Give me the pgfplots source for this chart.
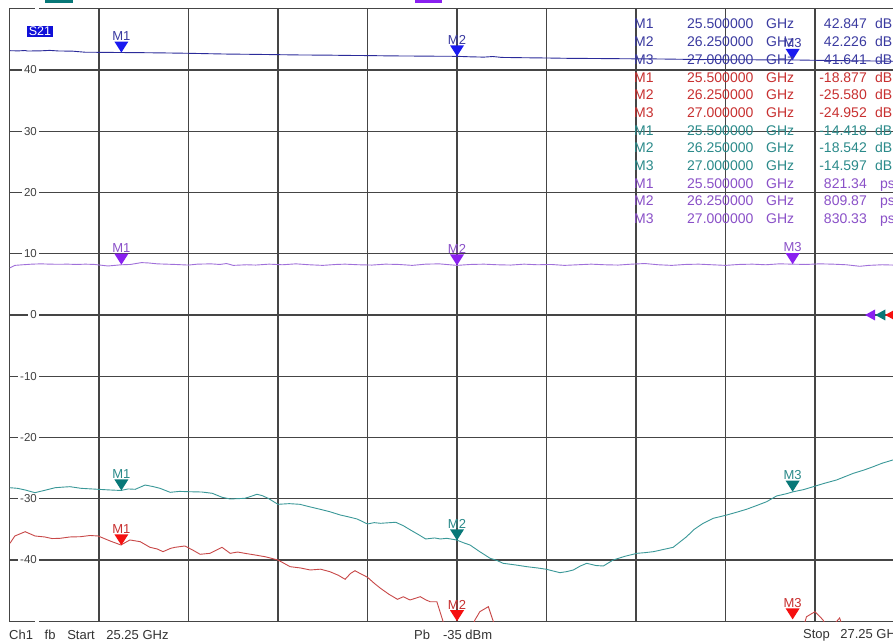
\documentclass[border=0pt]{standalone}
\usepackage{fontspec}
\setmainfont{Liberation Sans}
\usepackage{pgfplots}
\pgfplotsset{compat=1.18}
\definecolor{gridc}{HTML}{454545}
\definecolor{bline}{HTML}{2B2B9A}
\definecolor{bmark}{HTML}{1A1AF0}
\definecolor{btext}{HTML}{3A3AA0}
\definecolor{pline}{HTML}{A070DA}
\definecolor{pmark}{HTML}{8A20F0}
\definecolor{ptext}{HTML}{8A50C8}
\definecolor{tline}{HTML}{3A9898}
\definecolor{tmark}{HTML}{087878}
\definecolor{ttext}{HTML}{2A8A8A}
\definecolor{rline}{HTML}{C84848}
\definecolor{rmark}{HTML}{F51010}
\definecolor{rtext}{HTML}{C83030}
\definecolor{labc}{HTML}{404040}
\definecolor{s21blue}{HTML}{1010D8}

\pgfdeclareplotmark{vtri}{%
 \pgfpathmoveto{\pgfpoint{-7pt}{11pt}}%
 \pgfpathlineto{\pgfpoint{7pt}{11pt}}%
 \pgfpathlineto{\pgfpoint{0pt}{0pt}}%
 \pgfpathclose\pgfusepathqfill}
\pgfdeclareplotmark{ltri}{%
 \pgfpathmoveto{\pgfpoint{-5pt}{0pt}}%
 \pgfpathlineto{\pgfpoint{5pt}{5.5pt}}%
 \pgfpathlineto{\pgfpoint{5pt}{-5.5pt}}%
 \pgfpathclose\pgfusepathqfill}

\newcommand{\tfont}{\fontsize{14}{14}\selectfont}
\newcommand{\mfont}{\fontsize{13}{13}\selectfont}
\newcommand{\mrow}[7]{%
 \begin{scope}[yshift=-5pt]
 \node[anchor=base west, text=#2, font=\tfont, inner sep=0pt] at (634pt,#1pt) {#3};
 \node[anchor=base west, text=#2, font=\tfont, inner sep=0pt] at (687pt,#1pt) {#4};
 \node[anchor=base west, text=#2, font=\tfont, inner sep=0pt] at (766pt,#1pt) {GHz};
 \node[anchor=base east, text=#2, font=\tfont, inner sep=0pt] at (867pt,#1pt) {#5};
 \node[anchor=base west, text=#2, font=\tfont, inner sep=0pt] at (#7pt,#1pt) {#6};
 \end{scope}
}

\begin{document}
\begin{tikzpicture}
\useasboundingbox (0,0) rectangle (893pt,644pt);
\clip (0,0) rectangle (893pt,644pt);
\fill[white] (0,0) rectangle (893pt,644pt);
\begin{axis}[
  at={(9.5pt,22.75pt)}, anchor=south west,
  scale only axis, width=895pt, height=612.5pt,
  xmin=25.25, xmax=27.25, ymin=-50, ymax=50,
  xtick={25.25,25.45,25.65,25.85,26.05,26.25,26.45,26.65,26.85,27.05,27.25},
  xticklabels={},
  ytick={-50,-40,-30,-20,-10,0,10,20,30,40,50},
  yticklabels={{},{-40},{-30},{-20},{-10},{0},{10},{20},{30},{40},{}},
  yticklabel style={anchor=east, xshift=29.5pt, fill=white, inner xsep=2pt, inner ysep=0.5pt, text=labc, font=\fontsize{11.5}{12}\selectfont},
  grid=major,
  major grid style={gridc, line width=1.2pt},
  axis line style={gridc, line width=1.2pt},
  major tick length=0pt,
  tick style={draw=none},
]
% blue trace
\addplot[bline, line width=0.9pt] table[row sep=\\]{
x y\\
25.251 43.15\\ 25.27 43.12\\ 25.285 43.18\\ 25.29 43.1\\ 25.318 43.12\\ 25.34 43.2\\ 25.36 43.1\\
25.39 43.08\\ 25.419 42.9\\ 25.46 42.88\\ 25.50 42.85\\ 25.542 42.83\\ 25.60 42.78\\ 25.647 42.73\\
25.70 42.65\\ 25.736 42.6\\ 25.80 42.55\\ 25.85 42.5\\ 25.90 42.45\\ 25.966 42.42\\ 26.0 42.38\\
26.055 42.35\\ 26.10 42.3\\ 26.145 42.28\\ 26.20 42.25\\ 26.25 42.23\\ 26.28 42.15\\ 26.31 42.1\\
26.33 42.2\\ 26.35 42.05\\ 26.40 42.0\\ 26.458 41.95\\ 26.502 41.9\\ 26.55 41.88\\ 26.60 41.85\\
26.65 41.82\\ 26.70 41.8\\ 26.75 41.75\\ 26.793 41.7\\ 26.84 41.72\\ 26.85 41.66\\ 26.90 41.67\\
26.95 41.65\\ 27.00 41.64\\ 27.054 41.58\\ 27.10 41.53\\ 27.151 41.5\\ 27.224 41.42\\
};
% purple trace
\addplot[pline, line width=0.9pt] table[row sep=\\]{
x y\\
25.251 7.7\\ 25.262 8.1\\ 25.28 8.2\\ 25.30 8.3\\ 25.32 8.35\\ 25.34 8.3\\ 25.36 8.28\\ 25.38 8.3\\
25.40 8.25\\ 25.42 8.3\\ 25.44 8.25\\ 25.47 8.0\\ 25.50 8.2\\ 25.52 8.25\\ 25.545 8.55\\ 25.56 8.5\\
25.58 8.35\\ 25.60 8.3\\ 25.62 8.25\\ 25.65 8.15\\ 25.67 8.3\\ 25.70 8.35\\ 25.72 8.25\\ 25.735 8.4\\
25.75 8.1\\ 25.78 8.2\\ 25.80 8.15\\ 25.83 8.3\\ 25.86 8.2\\ 25.89 8.35\\ 25.92 8.2\\ 25.95 8.1\\
25.98 8.25\\ 26.00 8.3\\ 26.03 8.2\\ 26.06 8.15\\ 26.09 8.3\\ 26.12 8.25\\ 26.15 8.1\\ 26.18 8.3\\
26.21 8.35\\ 26.25 8.1\\ 26.28 8.25\\ 26.31 8.3\\ 26.34 8.2\\ 26.37 8.15\\ 26.40 8.3\\ 26.43 8.2\\
26.46 8.25\\ 26.49 8.1\\ 26.52 8.2\\ 26.55 8.3\\ 26.58 8.2\\ 26.61 8.15\\ 26.64 8.3\\ 26.67 8.4\\
26.70 8.2\\ 26.73 8.1\\ 26.76 8.25\\ 26.79 8.3\\ 26.82 8.2\\ 26.85 8.1\\ 26.88 8.25\\ 26.91 8.3\\
26.94 8.2\\ 26.97 8.35\\ 27.00 8.3\\ 27.03 8.25\\ 27.06 8.35\\ 27.09 8.3\\ 27.12 8.2\\ 27.15 7.95\\
27.17 8.1\\ 27.20 8.2\\ 27.225 8.15\\
};
% teal trace
\addplot[tline, line width=0.9pt] table[row sep=\\]{
x y\\
25.251 -28.20\\ 25.268 -28.3\\ 25.285 -28.57\\ 25.307 -29.01\\ 25.33 -28.6\\ 25.352 -28.20\\
25.37 -28.1\\ 25.385 -28.03\\ 25.41 -28.3\\ 25.448 -28.46\\ 25.475 -28.57\\ 25.499 -28.65\\
25.515 -28.4\\ 25.531 -28.46\\ 25.553 -27.76\\ 25.57 -28.0\\ 25.586 -28.29\\ 25.609 -28.95\\
25.63 -28.8\\ 25.649 -28.85\\ 25.68 -28.9\\ 25.703 -29.11\\ 25.725 -29.76\\ 25.743 -30.04\\
25.776 -29.93\\ 25.79 -29.6\\ 25.803 -29.27\\ 25.815 -29.5\\ 25.828 -29.93\\ 25.850 -30.91\\
25.875 -30.8\\ 25.899 -30.91\\ 25.92 -31.3\\ 25.944 -31.72\\ 25.965 -32.1\\ 25.989 -32.65\\
26.01 -33.0\\ 26.027 -33.31\\ 26.050 -34.12\\ 26.065 -33.9\\ 26.079 -34.01\\ 26.113 -33.84\\
26.13 -34.4\\ 26.146 -35.10\\ 26.165 -35.9\\ 26.180 -36.57\\ 26.20 -36.4\\ 26.213 -36.57\\
26.227 -36.46\\ 26.249 -36.73\\ 26.265 -37.2\\ 26.279 -37.55\\ 26.30 -38.6\\ 26.324 -39.72\\
26.34 -40.1\\ 26.353 -40.54\\ 26.38 -40.8\\ 26.406 -41.09\\ 26.43 -41.3\\ 26.450 -41.52\\
26.465 -41.8\\ 26.480 -42.07\\ 26.495 -41.9\\ 26.510 -41.63\\ 26.525 -41.0\\ 26.540 -40.54\\
26.56 -40.9\\ 26.577 -40.98\\ 26.599 -40.00\\ 26.625 -39.4\\ 26.652 -38.91\\ 26.67 -38.8\\
26.689 -38.64\\ 26.71 -38.3\\ 26.733 -37.93\\ 26.763 -36.20\\ 26.78 -35.0\\ 26.800 -34.01\\
26.823 -33.19\\ 26.853 -32.65\\ 26.875 -32.2\\ 26.897 -31.72\\ 26.92 -31.1\\ 26.942 -30.48\\
26.964 -29.55\\ 26.985 -29.2\\ 27.002 -28.85\\ 27.025 -28.5\\ 27.046 -28.03\\ 27.07 -27.5\\
27.098 -26.94\\ 27.136 -25.84\\ 27.16 -25.3\\ 27.180 -24.77\\ 27.20 -24.2\\ 27.224 -23.67\\
};
% red trace
\addplot[rline, line width=0.9pt] table[row sep=\\]{
x y\\
25.251 -37.27\\ 25.262 -36.08\\ 25.285 -35.38\\ 25.307 -36.08\\ 25.329 -36.24\\ 25.345 -36.5\\
25.363 -36.46\\ 25.385 -36.24\\ 25.408 -36.20\\ 25.43 -36.0\\ 25.448 -36.08\\ 25.475 -36.90\\
25.499 -37.55\\ 25.519 -36.73\\ 25.542 -37.01\\ 25.564 -37.93\\ 25.58 -38.2\\ 25.593 -38.64\\
25.61 -38.1\\ 25.620 -37.93\\ 25.642 -37.71\\ 25.66 -38.4\\ 25.676 -39.07\\ 25.698 -38.91\\
25.712 -38.4\\ 25.725 -37.93\\ 25.743 -38.91\\ 25.76 -38.7\\ 25.776 -38.91\\ 25.80 -39.2\\
25.821 -39.46\\ 25.850 -40.00\\ 25.877 -41.09\\ 25.90 -41.3\\ 25.922 -41.63\\ 25.945 -41.5\\
25.966 -41.91\\ 25.985 -42.5\\ 26.000 -43.15\\ 26.012 -42.2\\ 26.022 -41.75\\ 26.036 -42.3\\
26.050 -42.82\\ 26.065 -43.8\\ 26.079 -44.62\\ 26.098 -45.6\\ 26.117 -46.42\\ 26.13 -46.0\\
26.145 -46.53\\ 26.168 -45.99\\ 26.180 -46.5\\ 26.190 -46.81\\ 26.205 -46.81\\ 26.219 -50.07\\
26.235 -53\\ 26.279 -52\\ 26.290 -49.80\\ 26.301 -48.44\\ 26.320 -47.62\\ 26.330 -49.80\\
26.346 -53\\ 27.016 -53\\ 27.031 -49.26\\ 27.050 -48.44\\ 27.061 -49.26\\ 27.068 -49.80\\
27.083 -52\\ 27.095 -50.3\\ 27.105 -49.47\\ 27.117 -52\\ 27.224 -55\\
};
% markers
\addplot[only marks, mark=vtri, color=bmark, point meta=explicit symbolic, nodes near coords,
  every node near coord/.append style={anchor=south, yshift=12pt, inner sep=0pt, text=btext, font=\mfont}]
  table[row sep=\\, meta=label]{x y label\\ 25.5 42.85 M1\\ 26.25 42.23 M2\\ 27.0 41.64 M3\\};
\addplot[only marks, mark=vtri, color=pmark, point meta=explicit symbolic, nodes near coords,
  every node near coord/.append style={anchor=south, yshift=12pt, inner sep=0pt, text=ptext, font=\mfont}]
  table[row sep=\\, meta=label]{x y label\\ 25.5 8.21 M1\\ 26.25 8.10 M2\\ 27.0 8.30 M3\\};
\addplot[only marks, mark=vtri, color=tmark, point meta=explicit symbolic, nodes near coords,
  every node near coord/.append style={anchor=south, yshift=12pt, inner sep=0pt, text=ttext, font=\mfont}]
  table[row sep=\\, meta=label]{x y label\\ 25.5 -28.65 M1\\ 26.25 -36.8 M2\\ 27.0 -28.85 M3\\};
\addplot[only marks, mark=vtri, color=rmark, point meta=explicit symbolic, nodes near coords,
  every node near coord/.append style={anchor=south, yshift=12pt, inner sep=0pt, text=rtext, font=\mfont}]
  table[row sep=\\, meta=label]{x y label\\ 25.5 -37.6 M1\\ 26.25 -50 M2\\ 27.0 -49.7 M3\\};
% reference level arrows
\addplot[only marks, mark=ltri, color=pmark] coordinates {(27.173,0)};
\addplot[only marks, mark=ltri, color=tmark] coordinates {(27.196,0)};
\addplot[only marks, mark=ltri, color=rmark] coordinates {(27.218,0)};
\end{axis}
% S21 label
\node[fill=s21blue, text=white, inner xsep=1.5pt, inner ysep=1.5pt, font=\fontsize{12.5}{12.5}\selectfont] at (40pt,612.5pt) {S21};
% header fragments
\fill[tmark] (45pt,641pt) rectangle (73pt,645pt);
\fill[pmark] (415pt,641pt) rectangle (442pt,645pt);
% marker table
\mrow{620}{btext}{M1}{25.500000}{42.847}{dB}{875}
\mrow{602.3}{btext}{M2}{26.250000}{42.226}{dB}{875}
\mrow{584.6}{btext}{M3}{27.000000}{41.641}{dB}{875}
\mrow{566.9}{rtext}{M1}{25.500000}{-18.877}{dB}{875}
\mrow{549.2}{rtext}{M2}{26.250000}{-25.580}{dB}{875}
\mrow{531.5}{rtext}{M3}{27.000000}{-24.952}{dB}{875}
\mrow{513.8}{ttext}{M1}{25.500000}{-14.418}{dB}{875}
\mrow{496.1}{ttext}{M2}{26.250000}{-18.542}{dB}{875}
\mrow{478.4}{ttext}{M3}{27.000000}{-14.597}{dB}{875}
\mrow{460.7}{ptext}{M1}{25.500000}{821.34}{ps}{880}
\mrow{443}{ptext}{M2}{26.250000}{809.87}{ps}{880}
\mrow{425.3}{ptext}{M3}{27.000000}{830.33}{ps}{880}
% footer
\node[anchor=west, inner sep=0pt, text=black!80, font=\fontsize{13}{13}\selectfont] at (9pt,9pt) {Ch1\hspace{0.9em}fb\hspace{0.9em}Start\hspace{0.9em}25.25 GHz};
\node[anchor=west, inner sep=0pt, text=black!80, font=\fontsize{13}{13}\selectfont] at (414pt,9pt) {Pb\hspace{1em}-35 dBm};
\node[anchor=west, inner sep=0pt, text=black!80, font=\fontsize{13}{13}\selectfont] at (803pt,9pt) {Stop\hspace{0.8em}27.25 GHz};
\end{tikzpicture}
\end{document}
